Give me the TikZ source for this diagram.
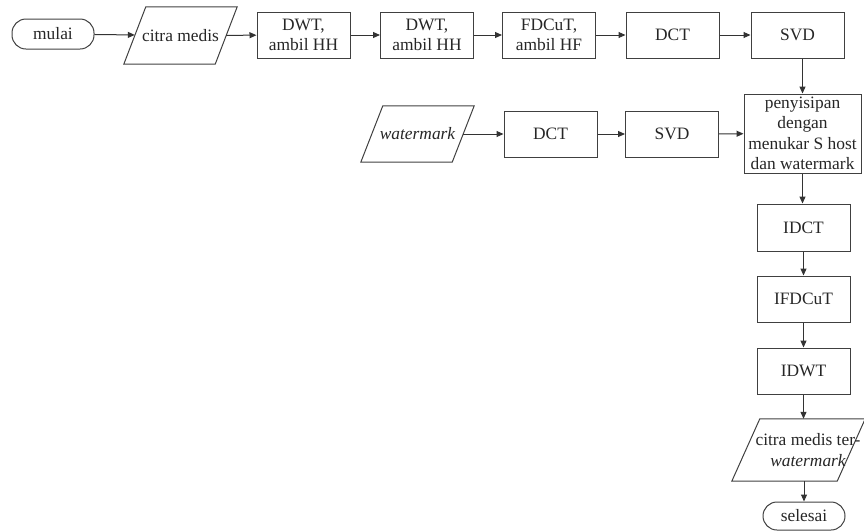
\documentclass[tikz,border=0pt]{standalone}
\usepackage{fontspec}
\setmainfont{Liberation Serif}
\usetikzlibrary{arrows.meta}
\tikzset{
  base/.style={font=\fontsize{17.4}{20.5}\selectfont, text=black!85, align=center, inner sep=0pt},
  procbox/.style={base, draw=black!75, line width=1pt, minimum width=93pt, minimum height=46pt},
  termbox/.style={base, draw=black!75, line width=1pt, rounded corners=14pt, minimum width=82pt, minimum height=30pt},
  iobox/.style={base},
  ioline/.style={draw=black!75, line width=1pt},
  conn/.style={draw=black!80, line width=1pt, -{Triangle[length=7pt,width=6pt]}}
}
\newcommand{\pgram}[2]{%
  \draw[ioline] ([xshift=#2pt]#1.north west) -- ([xshift=#2pt]#1.north east) -- ([xshift=-#2pt]#1.south east) -- ([xshift=-#2pt]#1.south west) -- cycle;}
\begin{document}
\begin{tikzpicture}[x=1pt,y=-1pt]
\useasboundingbox (0,0) rectangle (864,531);
% row 1
\node[termbox] (mulai) at (53,34) {mulai};
\node[iobox, minimum width=91pt, minimum height=57pt] (citra) at (180.5,35.5) {citra medis};
\pgram{citra}{11}
\node[procbox] (dwta) at (303.5,35) {DWT,\\ambil HH};
\node[procbox] (dwtb) at (427,35) {DWT,\\ambil HH};
\node[procbox] (fdc) at (549,35) {FDCuT,\\ambil HF};
\node[procbox] (dcta) at (672.5,35) {DCT};
\node[procbox] (svda) at (797.5,35) {SVD};
% row 2
\node[iobox, minimum width=91pt, minimum height=56pt] (wm) at (417.5,134) {\itshape watermark};
\pgram{wm}{11}
\node[procbox] (dctb) at (550.5,134) {DCT};
\node[procbox] (svdb) at (672,134) {SVD};
\node[procbox, minimum width=117pt, minimum height=79pt] (pen) at (802.5,133.5) {penyisipan\\dengan\\menukar S host\\dan watermark};
% column
\node[procbox, minimum height=47pt] (idct) at (803.5,227.5) {IDCT};
\node[procbox] (ifdc) at (803.5,299) {IFDCuT};
\node[procbox] (idwt) at (803.5,371) {IDWT};
\node[iobox, minimum width=105pt, minimum height=62pt] (out) at (798.5,450) {};
\pgram{out}{14}
\node[base] (outtext) at (808,450) {citra medis ter-\\\itshape watermark};
\node[termbox, minimum height=28pt] (sel) at (804,516) {selesai};
% connectors
\draw[conn] (mulai) -- (citra);
\draw[conn] (citra) -- (dwta);
\draw[conn] (dwta) -- (dwtb);
\draw[conn] (dwtb) -- (fdc);
\draw[conn] (fdc) -- (dcta);
\draw[conn] (dcta) -- (svda);
\draw[conn] (pen.north |- svda.south) -- (pen.north);
\draw[conn] (wm) -- (dctb);
\draw[conn] (dctb) -- (svdb);
\draw[conn] (svdb) -- (pen);
\draw[conn] (pen.south) -- (pen.south |- idct.north);
\draw[conn] (idct) -- (ifdc);
\draw[conn] (ifdc) -- (idwt);
\draw[conn] (idwt.south) -- (idwt.south |- out.north);
\draw[conn] (out.south -| sel.north) -- (sel.north);
\end{tikzpicture}
\end{document}
